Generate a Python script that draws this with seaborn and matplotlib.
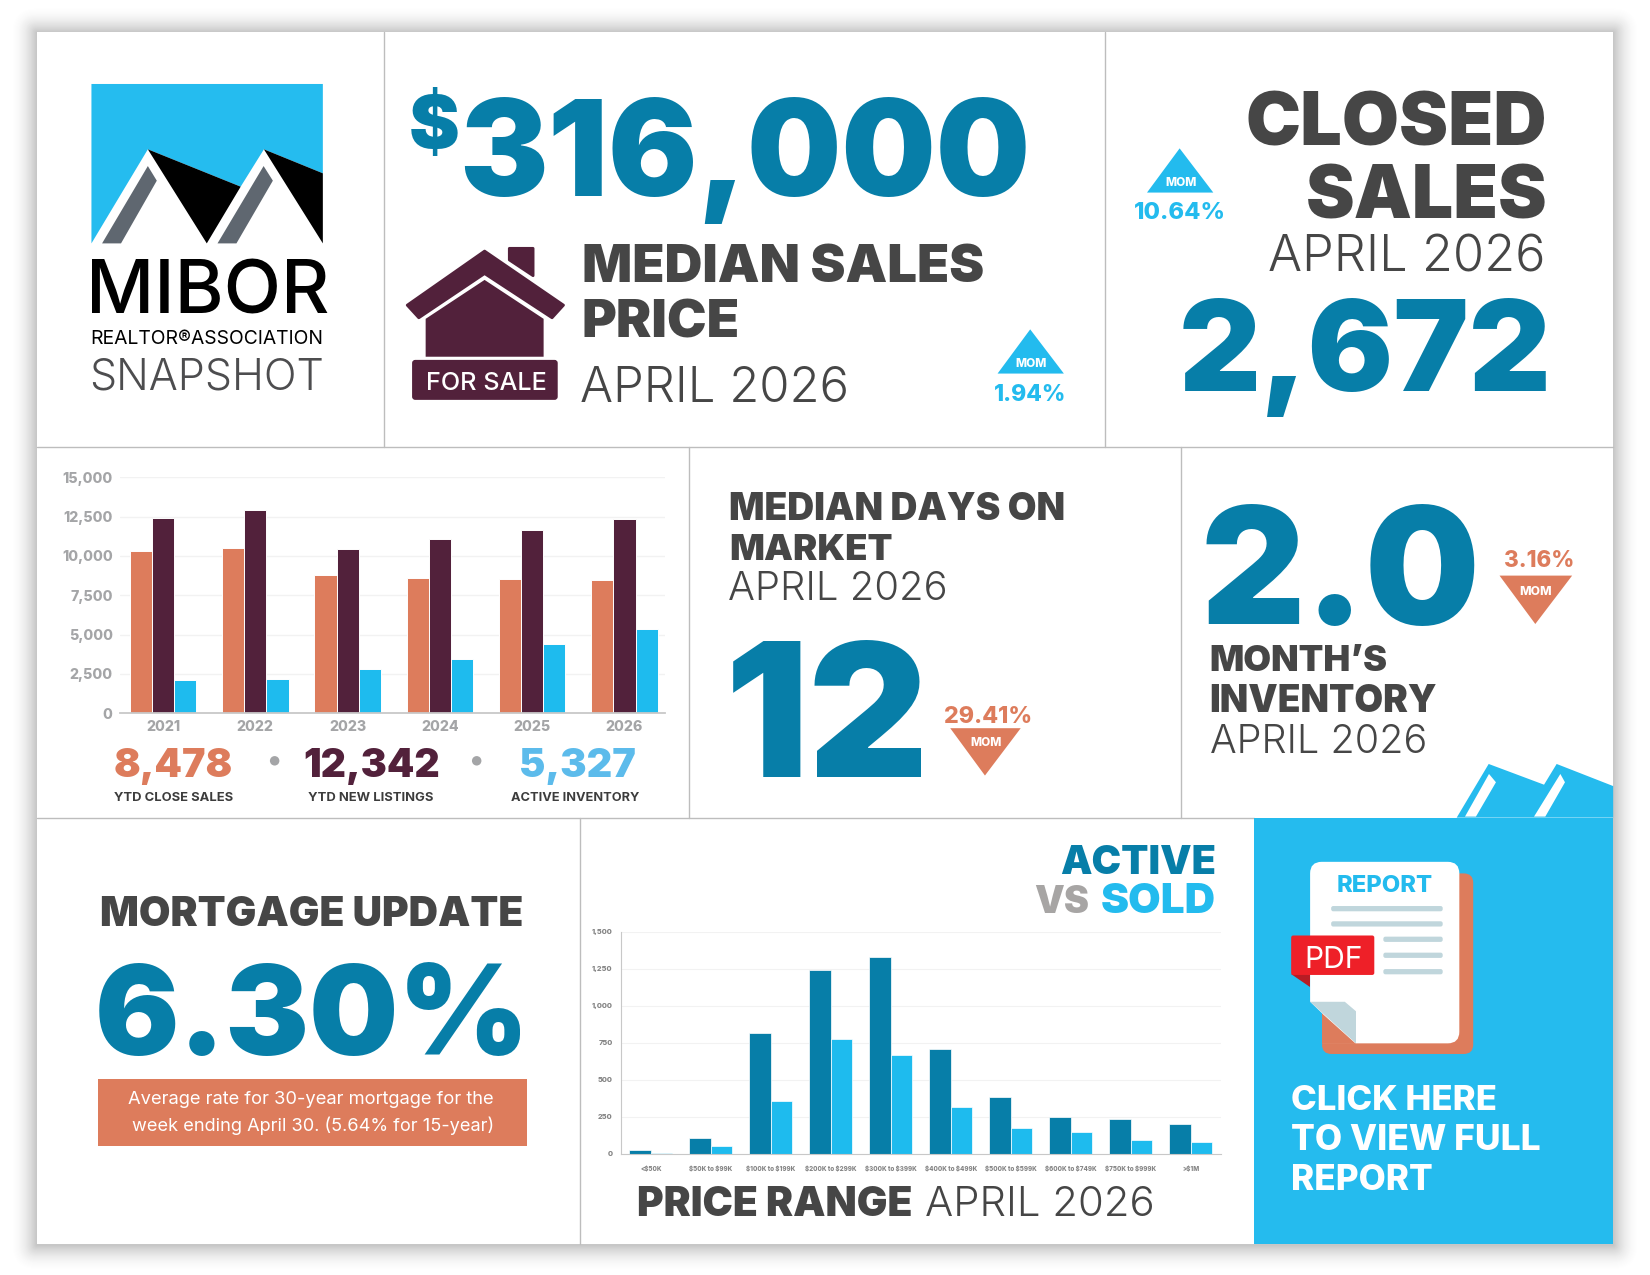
import matplotlib
matplotlib.use("Agg")
import matplotlib.pyplot as plt
from matplotlib.patches import Polygon, Rectangle, FancyBboxPatch, Circle
import pandas as pd
import seaborn as sns

# ###########################################
# Chart data
# ###########################################

years = ["2021", "2022", "2023", "2024", "2025", "2026"]
close_sales = [10320, 10490, 8780, 8620, 8510, 8478]
new_listings = [12390, 12930, 10430, 11060, 11630, 12342]
active_inventory = [2090, 2170, 2840, 3430, 4400, 5327]
year_yticks = [0, 2500, 5000, 7500, 10000, 12500, 15000]

price_ranges = ["<$50K", "$50K to $99K", "$100K to $199K", "$200K to $299K", "$300K to $399K",
                "$400K to $499K", "$500K to $599K", "$600K to $749K", "$750K to $999K", ">$1M"]
active_counts = [27, 110, 813, 1245, 1333, 705, 381, 252, 236, 203]
sold_counts = [7, 52, 360, 775, 671, 315, 173, 146, 95, 77]
price_yticks = [0, 250, 500, 750, 1000, 1250, 1500]

# colours
TEAL = "#077EA8"
SKY = "#23BBEE"
CORAL = "#DD7C5C"
MAROON = "#52213B"
INK = "#464646"
TICK = "#A4A5A7"
LINE = "#BDBDBD"

sns.set_style("white")
plt.rcParams["font.family"] = ["Inter", "DejaVu Sans"]

SCALE = 1650 / 1568
W, H = 1568, 1275 / SCALE

fig = plt.figure(figsize=(16.5, 12.75), dpi=100, facecolor="white")
ax = fig.add_axes([0, 0, 1, 1])
ax.set_xlim(0, W)
ax.set_ylim(H, 0)
ax.axis("off")
renderer = fig.canvas.get_renderer()


def put(s, x0, x1, base, color, weight=900):
    # left aligned text, font size picked so it runs from x0 to x1
    t = ax.text(x0, base, s, color=color, fontweight=weight, fontsize=20,
                ha="left", va="baseline", zorder=5)
    w = t.get_window_extent(renderer).width
    t.set_fontsize(20 * (x1 - x0) * SCALE / w)
    return t


def poly(points, color, z=3, lw=0):
    ax.add_patch(Polygon(points, closed=True, facecolor=color, edgecolor=color, linewidth=lw,
                         joinstyle="round", zorder=z))


def rounded(x0, y0, x1, y1, r, color, z=3):
    ax.add_patch(FancyBboxPatch((x0 + r, y0 + r), x1 - x0 - 2 * r, y1 - y0 - 2 * r,
                                boxstyle=f"round,pad={r}", facecolor=color, edgecolor="none", zorder=z))


def chart_axes(x0, y0, x1, y1):
    return fig.add_axes([x0 / W, 1 - y1 / H, (x1 - x0) / W, (y1 - y0) / H], facecolor="none")


# ###########################################
# Card, shadow and grid lines
# ###########################################

for i in range(1, 27):
    ax.add_patch(FancyBboxPatch((35, 31), 1498, 1152, boxstyle=f"round,pad={i}",
                                facecolor="black", edgecolor="none", alpha=0.017 * (1 - i / 27), zorder=0))
ax.add_patch(Rectangle((35, 30), 1498, 1152, facecolor="white", edgecolor="none", zorder=1))

for x0, x1, y in [(35, 1533, 425), (35, 1192, 777)]:
    ax.plot([x0, x1], [y, y], color=LINE, lw=1, zorder=2)
for x, y0, y1 in [(365, 30, 425), (1050, 30, 425), (655, 425, 777), (1122, 425, 777), (551, 777, 1182)]:
    ax.plot([x, x], [y0, y1], color=LINE, lw=1, zorder=2)

# ###########################################
# Logo
# ###########################################

poly([(86.9, 79.8), (306.8, 79.8), (306.8, 164.7), (250.8, 141.9), (228.7, 177.4),
      (140.5, 141.9), (86.9, 231.3)], "#25BCEF")
poly([(140.5, 141.9), (228.7, 177.4), (196.5, 231.3)], "black")
poly([(250.8, 141.9), (306.8, 164.7), (306.8, 231.3)], "black")
poly([(140.5, 157.8), (149, 171.7), (115, 231.3), (97, 231.3)], "#5F6770")
poly([(250.5, 157.8), (259.3, 171.7), (224.7, 231.3), (206.7, 231.3)], "#5F6770")
put("MIBOR", 82, 313, 298, "black", 500)
put("REALTOR®ASSOCIATION", 86, 308, 327, "black", 400)
put("SNAPSHOT", 85, 308, 370, "#4D4D4F", 300)

# ###########################################
# Median sales price
# ###########################################

put("$", 388, 436, 142, TEAL)
put("316,000", 436, 982, 186, TEAL)
put("MEDIAN SALES", 553, 934, 268, INK)
put("PRICE", 553, 703, 321, INK)
put("APRIL 2026", 551, 806, 382, INK, 300)

poly([(484, 236), (506.6, 236), (506.6, 262), (484, 247)], MAROON, lw=2)
poly([(460.5, 238.6), (535.5, 290), (524.6, 302), (460.5, 260), (398, 302), (387, 290)], MAROON, lw=2)
poly([(460.5, 266), (516.6, 303), (516.6, 339), (404.5, 339), (404.5, 303)], MAROON)
rounded(391.6, 342, 530, 380, 3, MAROON)
put("FOR SALE", 405, 520, 371, "white", 500)

poly([(979, 313), (1011, 355), (948, 355)], SKY)
put("MOM", 965, 995, 349, "white", 800)
put("1.94%", 945, 1014, 381, SKY, 800)

# ###########################################
# Closed sales
# ###########################################

put("CLOSED", 1184, 1470, 138, INK)
put("SALES", 1241, 1470, 208, INK)
put("APRIL 2026", 1205, 1468, 258, INK, 300)
put("2,672", 1120, 1475, 372, TEAL)
poly([(1121, 141), (1153, 183), (1090, 183)], SKY)
put("MOM", 1107, 1137, 177, "white", 800)
put("10.64%", 1078, 1165, 208, SKY, 800)

# ###########################################
# Yearly bars
# ###########################################

years_df = pd.DataFrame({"year": years, "close": close_sales, "listings": new_listings,
                         "inventory": active_inventory}).melt("year", var_name="kind", value_name="count")
ax1 = chart_axes(113.7, 453.7, 632, 677.7)
sns.barplot(data=years_df, x="year", y="count", hue="kind", ax=ax1, width=0.72, gap=0, saturation=1,
            palette=[CORAL, MAROON, "#1EBBEE"], edgecolor="white", linewidth=0.7, legend=False)
ax1.set_xlim(-0.47, 5.44)
ax1.set_ylim(0, 15000)
ax1.set_yticks(year_yticks, [f"{v:,}" for v in year_yticks])
ax1.set_xlabel("")
ax1.set_ylabel("")
ax1.grid(axis="y", color="#F2F2F2", lw=1)
ax1.set_axisbelow(True)
ax1.tick_params(axis="y", length=0, labelsize=10.2, labelcolor=TICK, pad=5)
ax1.tick_params(axis="x", length=0, labelsize=10.2, labelcolor=TICK, pad=5)
for lab in ax1.get_xticklabels() + ax1.get_yticklabels():
    lab.set_fontweight(800)
sns.despine(ax=ax1, left=True)
ax1.spines["bottom"].set_color("#C8C8C8")
ax1.spines["bottom"].set_linewidth(1.3)

put("8,478", 108, 221, 738, CORAL)
put("12,342", 288, 418, 738, MAROON)
put("5,327", 493, 604, 738, "#5CBBEB")
ax.add_patch(Circle((261, 723), 4.5, facecolor=TICK, edgecolor="none", zorder=3))
ax.add_patch(Circle((453, 723), 4.5, facecolor=TICK, edgecolor="none", zorder=3))
put("YTD CLOSE SALES", 108, 221, 761, "#3C3C3C", 700)
put("YTD NEW LISTINGS", 293, 412, 761, "#3C3C3C", 700)
put("ACTIVE INVENTORY", 486, 608, 761, "#3C3C3C", 700)

# ###########################################
# Days on market and inventory
# ###########################################

put("MEDIAN DAYS ON", 693, 1012, 494, INK)
put("MARKET", 693, 848, 532, INK)
put("APRIL 2026", 692, 900, 570, INK, 300)
put("12", 689, 884, 738, TEAL)
put("29.41%", 897, 981, 687, CORAL, 800)
poly([(903, 692), (970, 692), (936, 737)], CORAL)
put("MOM", 922, 952, 709, "white", 800)

put("2.0", 1141, 1408, 593, TEAL)
put("3.16%", 1429, 1496, 539, CORAL, 800)
poly([(1425, 547), (1494, 547), (1459, 593)], CORAL)
put("MOM", 1444, 1475, 565, "white", 800)
put("MONTH’S", 1149, 1318, 638, INK)
put("INVENTORY", 1149, 1365, 677, INK)
put("APRIL 2026", 1150, 1356, 716, INK, 300)

# ###########################################
# Mortgage
# ###########################################

put("MORTGAGE UPDATE", 95, 498, 880, INK)
put("6.30%", 90, 505, 1003, TEAL)
ax.add_patch(Rectangle((93, 1025), 408, 64, facecolor=CORAL, edgecolor="none", zorder=3))
put("Average rate for 30-year mortgage for the", 122, 472, 1049, "white", 400)
put("week ending April 30. (5.64% for 15-year)", 125, 469, 1075, "white", 400)

# ###########################################
# Price range bars
# ###########################################

put("ACTIVE", 1007, 1155, 831, TEAL)
put("VS", 983, 1035, 868, "#A7A5A4")
put("SOLD", 1046, 1155, 868, SKY)

price_df = pd.DataFrame({"range": price_ranges, "active": active_counts,
                         "sold": sold_counts}).melt("range", var_name="kind", value_name="count")
ax2 = chart_axes(590, 885.5, 1160, 1096.5)
sns.barplot(data=price_df, x="range", y="count", hue="kind", ax=ax2, width=0.72, gap=0, saturation=1,
            palette=[TEAL, "#1EBBEE"], edgecolor="white", linewidth=0.5, legend=False)
ax2.set_xlim(-0.5, 9.5)
ax2.set_ylim(0, 1500)
ax2.set_yticks(price_yticks, [f"{v:,}" for v in price_yticks])
ax2.set_xlabel("")
ax2.set_ylabel("")
ax2.grid(axis="y", color="#F2F2F2", lw=0.8)
ax2.set_axisbelow(True)
ax2.tick_params(axis="y", length=0, labelsize=5.3, labelcolor="#858585", pad=6)
ax2.tick_params(axis="x", length=0, labelsize=4.5, labelcolor="#858585", pad=8)
for lab in ax2.get_xticklabels() + ax2.get_yticklabels():
    lab.set_fontweight(800)
    lab.set_parse_math(False)
sns.despine(ax=ax2)
ax2.spines["left"].set_color("#C8C8C8")
ax2.spines["bottom"].set_color("#C8C8C8")

put("PRICE RANGE", 605, 867, 1156, INK)
put("APRIL 2026", 879, 1097, 1156, INK, 300)

# ###########################################
# Report panel
# ###########################################

PANEL = "#25BBEE"
ax.add_patch(Rectangle((1192, 777), 341, 405, facecolor=PANEL, edgecolor="none", zorder=3))
poly([(1384.3, 777), (1414.7, 726), (1467.3, 745.7), (1479.3, 726), (1533, 747), (1533, 777)], PANEL)
poly([(1392.2, 776), (1415, 735.5), (1421.6, 743.4), (1402.6, 776)], "white", z=4)
poly([(1457.8, 776), (1482.8, 735.5), (1487.2, 743.4), (1468.5, 776)], "white", z=4)

rounded(1256.3, 830, 1400, 1001.6, 9, CORAL, z=4)
rounded(1245, 819, 1386.8, 991.5, 11, "white", z=4)
poly([(1244, 951), (1256.5, 963), (1256.5, 993), (1244, 993)], PANEL, z=4)
poly([(1256.3, 963), (1288.6, 992), (1256.3, 992)], CORAL, z=4)
poly([(1245, 952), (1278, 952), (1288.6, 961), (1288.6, 991.5)], "#C0D6DC", z=4)
put("REPORT", 1270.5, 1362, 848, SKY, 800)
for y in [863.5, 878]:
    rounded(1265, y - 2.5, 1371, y + 2.5, 2, "#C0D6DC", z=4)
for y in [892.6, 907.8, 923.4]:
    rounded(1314.6, y - 2.5, 1371, y + 2.5, 2, "#C0D6DC", z=4)
poly([(1227, 926), (1245, 926), (1245, 938)], "#B71C24", z=4)
rounded(1227, 889, 1306, 926.5, 2, "#EE2028", z=4)
put("PDF", 1240, 1296, 920, "white", 400)

put("CLICK HERE", 1227, 1423, 1055, "white", 800)
put("TO VIEW FULL", 1227, 1465, 1093, "white", 800)
put("REPORT", 1227, 1362, 1131, "white", 800)

fig.savefig("out.png", dpi=100)
